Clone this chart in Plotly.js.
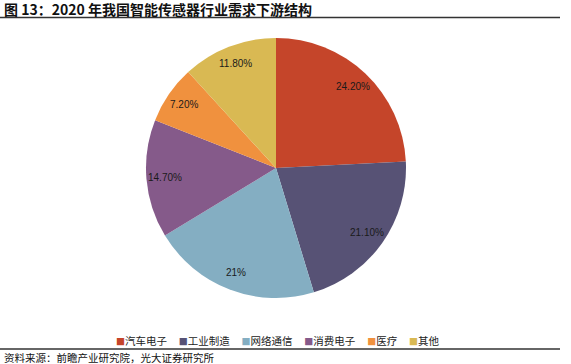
<!DOCTYPE html>
<html><head><meta charset="utf-8">
<script src="https://cdn.plot.ly/plotly-3.0.1.min.js"></script>
<style>html,body{margin:0;padding:0;background:#fff}#c{width:571px;height:364px}</style>
</head><body><div id="c"></div>
<script>
var categories = ['汽车电子','工业制造','网络通信','消费电子','医疗','其他'];
var values = [24.2, 21.1, 21, 14.7, 7.2, 11.8];
var valueLabels = ['24.20%','21.10%','21%','14.70%','7.20%','11.80%'];
var colors = ['#C5452A','#575275','#84AEC2','#855A8A','#F0913E','#D9B953'];
var titleText = '图 13：2020 年我国智能传感器行业需求下游结构';
var sourceText = '资料来源：前瞻产业研究院，光大证券研究所';

var W = 571, H = 364;
var cx = 276, cy = 168, R = 130;
var dom = {x:[(cx-R)/W,(cx+R)/W], y:[1-(cy+R)/H, 1-(cy-R)/H]};

var total = values.reduce(function(a,b){return a+b;},0);
var ann = [];
var cum = 0;
for (var i=0;i<values.length;i++){
  var mid = (cum + values[i]/2)/total*2*Math.PI;
  cum += values[i];
  var r = 0.86*R;
  var px = cx + r*Math.sin(mid), py = cy - r*Math.cos(mid);
  ann.push({x:px/W, y:1-py/H, xref:'paper', yref:'paper', text:valueLabels[i], showarrow:false,
    font:{family:'Liberation Sans, Arial, sans-serif', size:10, color:'#1a1a1a'}, xanchor:'center', yanchor:'middle'});
}
ann.push({x:0.004, y:1-9/H, xref:'paper', yref:'paper', xanchor:'left', yanchor:'middle', showarrow:false,
  text:'<b>'+titleText+'</b>', font:{family:'Noto Sans CJK SC', size:14, color:'#111'}});
ann.push({x:0.004, y:1-357/H, xref:'paper', yref:'paper', xanchor:'left', yanchor:'middle', showarrow:false,
  text:sourceText, font:{family:'Noto Sans CJK SC', size:10.5, color:'#111'}});

// legend built as text: coloured square + category name
var legParts = categories.map(function(c,i){
  return '<span style="color:'+colors[i]+';font-size:9px">■</span>'+c;
});
ann.push({x:277/W, y:1-340/H, xref:'paper', yref:'paper', xanchor:'center', yanchor:'middle', showarrow:false,
  text:legParts.join('&nbsp;&nbsp;&nbsp;&nbsp;&nbsp;'), font:{family:'Noto Sans CJK SC', size:10.5, color:'#222'}});

var data = [{
  type:'pie', labels:categories, values:values, sort:false, direction:'clockwise', rotation:0,
  marker:{colors:colors, line:{width:0}}, textinfo:'none', hoverinfo:'label+percent',
  domain:dom, showlegend:false
}];
var layout = {
  width:W, height:H, margin:{l:0,r:0,t:0,b:0}, paper_bgcolor:'#fff', plot_bgcolor:'#fff',
  showlegend:false,
  annotations:ann,
  shapes:[
    {type:'line', xref:'paper', yref:'paper', x0:0, x1:560/W, y0:1-17.5/H, y1:1-17.5/H, line:{color:'#333', width:1.5}},
    {type:'line', xref:'paper', yref:'paper', x0:0, x1:560/W, y0:1-349/H, y1:1-349/H, line:{color:'#333', width:1.5}}
  ]
};
Plotly.newPlot('c', data, layout, {staticPlot:true});
</script></body></html>
